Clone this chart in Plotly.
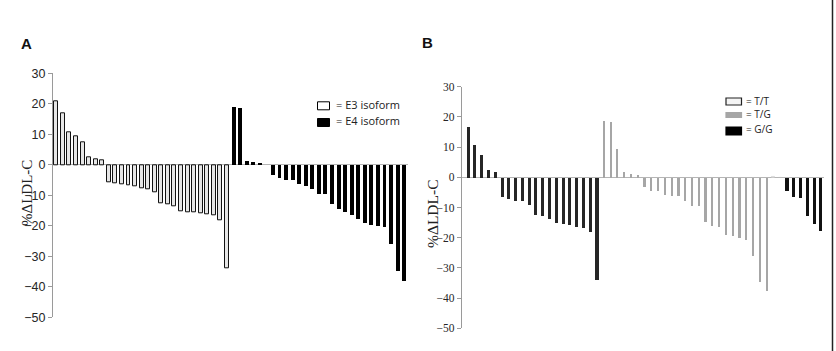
import plotly.graph_objects as go

# ---------------- data ----------------
# Panel A : %ΔLDL-C per subject, grouped by apoE isoform
a_e3 = [20.8, 16.8, 10.8, 9.4, 7.3, 2.5, 1.7, 1.6,
        -5.8, -6.1, -6.3, -6.6, -7.2, -7.8, -8.0, -9.1, -12.6, -12.9, -13.7,
        -15.3, -15.6, -15.7, -16.0, -16.3, -16.6, -18.3, -33.9]
a_e4 = [18.8, 18.5, 1.0, 0.8, 0.2, 0.0,
        -3.5, -4.5, -5.0, -5.0, -6.4, -7.0, -8.1, -9.7, -9.7, -13.0, -14.6,
        -15.5, -16.5, -17.9, -19.2, -19.8, -20.3, -20.5, -26.1, -34.9, -38.1]

# Panel B : same outcome grouped by genotype
b_gg1 = [16.8, 10.9, 7.6, 2.6, 1.8,
         -6.5, -7.2, -7.7, -7.9, -9.1, -12.5, -12.7, -13.6, -15.1, -15.5,
         -15.7, -16.2, -16.7, -18.0, -33.8]
b_tg = [18.7, 18.4, 9.4, 1.7, 1.1, 0.8,
        -3.2, -4.6, -4.6, -5.8, -6.1, -6.2, -7.7, -9.5, -9.5, -14.6, -15.9,
        -16.2, -18.9, -19.5, -20.0, -20.5, -25.8, -34.7, -37.6]
b_tt = [0.3, 0.0]
b_gg2 = [-4.3, -6.5, -6.9, -12.8, -15.3, -17.8]

y_ticks = [30, 20, 10, 0, -10, -20, -30, -40, -50]
legend_a = ["= E3 isoform", "= E4 isoform"]
legend_b = ["= T/T", "= T/G", "= G/G"]

W, H = 836, 351
def px(x):
    return x / W
def py(y):
    return 1 - y / H

# indices (category positions) for each group
ia_e3 = list(range(len(a_e3)))
ia_e4 = list(range(len(a_e3), len(a_e3) + len(a_e4)))
n1 = len(b_gg1)
ib_gg1 = list(range(n1))
ib_tg = list(range(n1, n1 + len(b_tg)))
ib_tt = list(range(n1 + len(b_tg), n1 + len(b_tg) + len(b_tt)))
s = n1 + len(b_tg) + len(b_tt)
ib_gg2 = list(range(s, s + len(b_gg2)))

fig = go.Figure()
fig.add_trace(go.Bar(x=ia_e3, y=a_e3, width=0.6, xaxis="x", yaxis="y",
                     marker=dict(color="#e6e6e6", line=dict(color="#111111", width=1))))
fig.add_trace(go.Bar(x=ia_e4, y=a_e4, width=0.6, xaxis="x", yaxis="y",
                     marker=dict(color="#000000", line=dict(width=0))))

fig.add_trace(go.Bar(x=ib_gg1, y=b_gg1, width=0.45, xaxis="x2", yaxis="y2",
                     marker=dict(color="#262626", line=dict(width=0))))
fig.add_trace(go.Bar(x=ib_tg, y=b_tg, width=0.32, xaxis="x2", yaxis="y2",
                     marker=dict(color="#a6a6a6", line=dict(width=0))))
fig.add_trace(go.Bar(x=ib_tt, y=b_tt, width=0.45, xaxis="x2", yaxis="y2",
                     marker=dict(color="white", line=dict(color="#bbbbbb", width=0.5))))
fig.add_trace(go.Bar(x=ib_gg2, y=b_gg2, width=0.45, xaxis="x2", yaxis="y2",
                     marker=dict(color="#111111", line=dict(width=0))))

n_a = len(a_e3) + len(a_e4)
n_b = s + len(b_gg2)

xa = dict(range=[-0.5, n_a - 0.5], showline=False, showgrid=False, zeroline=False,
          showticklabels=False, ticks="", fixedrange=True)
ya_common = dict(range=[-50, 30], tickvals=y_ticks, showgrid=False,
                 showline=True, linecolor="#9a9a9a", linewidth=1,
                 ticks="outside", ticklen=4, tickcolor="#9a9a9a",
                 zeroline=True, zerolinecolor="#b5b5b5", zerolinewidth=1,
                 automargin=False)

fig.update_layout(
    width=W, height=H, autosize=False,
    margin=dict(l=0, r=0, t=0, b=0, pad=0),
    paper_bgcolor="white", plot_bgcolor="rgba(0,0,0,0)",
    showlegend=False, barmode="overlay", bargap=0,
    xaxis=dict(xa, domain=[px(53), px(407.5)], anchor="y"),
    yaxis=dict(ya_common, domain=[py(317.3), py(73.3)], anchor="x",
               tickfont=dict(family="Liberation Sans, Arial", size=12.5, color="#262626")),
    xaxis2=dict(xa, range=[-0.9, n_b - 0.5], domain=[px(461.7), px(824)], anchor="y2"),
    yaxis2=dict(ya_common, domain=[py(328.3), py(86.7)], anchor="x2",
                tickfont=dict(family="Liberation Serif, Times New Roman", size=11.5, color="#262626")),
)

def note(text, x, y, size, family, xanchor="center", angle=0, color="#222"):
    return dict(text=text, x=px(x), y=py(y), xref="paper", yref="paper",
                xanchor=xanchor, yanchor="middle", textangle=angle, showarrow=False,
                font=dict(family=family, size=size, color=color))

ann = []
sans = "Liberation Sans, Arial"
serif = "Liberation Serif, Times New Roman"
legf = "Open Sans, Liberation Sans"
# panel letters
ann.append(note("<b>A</b>", 26, 43.5, 15, sans, color="#111"))
ann.append(note("<b>B</b>", 427, 42.5, 15, sans, color="#111"))
# y titles
ann.append(note("%ΔLDL-C", 27, 193, 15, serif, angle=-90))
ann.append(note("%ΔLDL-C", 433, 213, 15.5, serif, angle=-90))

shapes = []
# legend A
leg_a_y = [105.8, 122.5]
leg_a_fill = ["white", "black"]
for t, yy, fc in zip(legend_a, leg_a_y, leg_a_fill):
    shapes.append(dict(type="rect", xref="paper", yref="paper",
                       x0=px(317.5), x1=px(329.5), y0=py(yy + 4), y1=py(yy - 4),
                       fillcolor=fc, line=dict(color="black", width=1)))
    ann.append(note(t, 333.5, yy - 1.5, 11, legf, xanchor="left"))
# legend B
leg_b_y = [101.5, 115, 131]
leg_b_h = [3.5, 2.5, 4]
leg_b_t = [100.5, 114, 128.5]
leg_b_fill = ["#f4f4f4", "#a6a6a6", "black"]
leg_b_line = ["#222", "#a6a6a6", "black"]
for t, yy, hh, ty, fc, lc in zip(legend_b, leg_b_y, leg_b_h, leg_b_t, leg_b_fill, leg_b_line):
    shapes.append(dict(type="rect", xref="paper", yref="paper",
                       x0=px(726), x1=px(741.5), y0=py(yy + hh), y1=py(yy - hh),
                       fillcolor=fc, line=dict(color=lc, width=1.2)))
    ann.append(note(t, 744, ty, 10, legf, xanchor="left"))
# right edge border line
shapes.append(dict(type="line", xref="paper", yref="paper", x0=px(832.5), x1=px(832.5),
                   y0=0, y1=1, line=dict(color="#222", width=1.5)))

fig.update_layout(annotations=ann, shapes=shapes)
fig.write_html("out.html")
